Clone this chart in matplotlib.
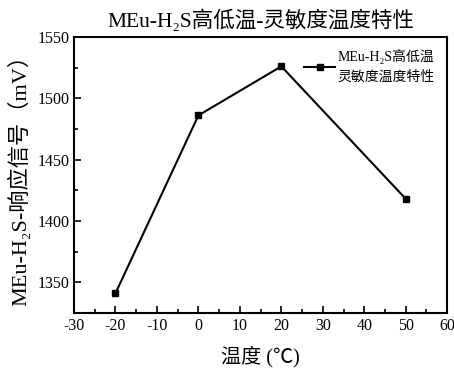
import matplotlib
matplotlib.use("Agg")
import matplotlib.pyplot as plt
from matplotlib.ticker import MultipleLocator

plt.rcParams['font.family'] = ['Liberation Serif', 'Noto Sans CJK SC']
plt.rcParams['axes.unicode_minus'] = False

# data
temps = [-20, 0, 20, 50]
signal = [1341, 1486, 1526, 1418]

fig = plt.figure(figsize=(4.54, 3.69), dpi=100)
ax = fig.add_axes([0.163, 0.152, 0.822, 0.748])

ax.plot(temps, signal, color='black', linewidth=1.5, marker='s', markersize=4.5,
        label='MEu-H\u2082S高低温\n灵敏度温度特性')

ax.set_xlim(-30, 60)
ax.set_ylim(1325, 1550)
ax.xaxis.set_major_locator(MultipleLocator(10))
ax.xaxis.set_minor_locator(MultipleLocator(5))
ax.yaxis.set_major_locator(MultipleLocator(50))
ax.yaxis.set_minor_locator(MultipleLocator(25))
ax.tick_params(which='both', direction='in', top=False, right=False, labelsize=11.5, width=1.2)
ax.tick_params(which='major', length=5)
ax.tick_params(which='minor', length=3)
for s in ax.spines.values():
    s.set_linewidth(1.5)

ax.set_title('MEu-H\u2082S高低温-灵敏度温度特性', fontsize=15.5, pad=7)
ax.set_xlabel('温度 (℃)', fontsize=14.5, labelpad=9)
ax.set_ylabel('MEu-H\u2082S-响应信号（mV）', fontsize=16, labelpad=4)

leg = ax.legend(loc='upper right', frameon=False, fontsize=10, handlelength=2.2,
                handletextpad=0.2, borderaxespad=0.5)
leg.get_texts()[0].set_linespacing(1.6)

fig.savefig('out.png', dpi=100)
